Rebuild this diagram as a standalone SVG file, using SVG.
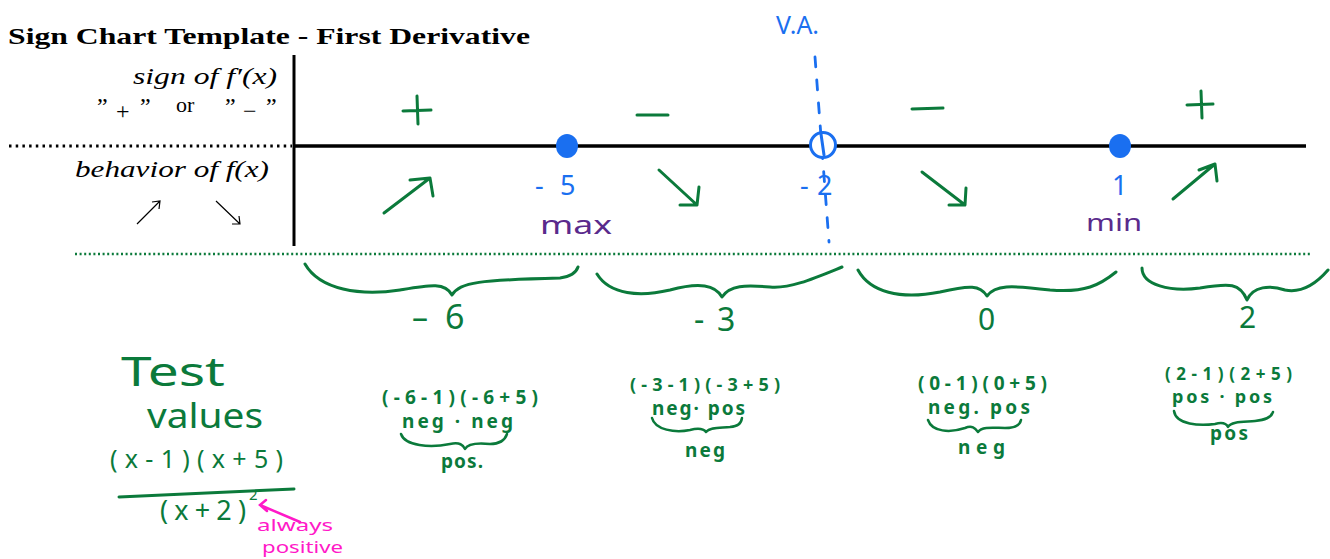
<svg xmlns="http://www.w3.org/2000/svg" width="1330" height="559" viewBox="0 0 1330 559">
<style>
.hw{font-family:"Noto Sans","Open Sans",sans-serif;}
.g{fill:#0b7a3b;}
.b{fill:#1a6ff0;}
.p{fill:#5a2a8c;}
.m{fill:#ff19c8;}
.gs{stroke:#0b7a3b;fill:none;stroke-width:3;stroke-linecap:round;stroke-linejoin:round;}
.gs2{stroke:#0b7a3b;fill:none;stroke-width:2.5;stroke-linecap:round;stroke-linejoin:round;}
.tex{font-family:"Liberation Serif","DejaVu Serif",serif;fill:#000;}
</style>
<rect width="1330" height="559" fill="#fff"/>

<g id="title">
<text class="tex" x="8" y="44" font-size="24" font-weight="bold" textLength="522" lengthAdjust="spacingAndGlyphs">Sign Chart Template - First Derivative</text>
</g>

<g id="row-labels">
<text class="tex" x="133" y="84" font-size="23" font-style="italic" textLength="144" lengthAdjust="spacingAndGlyphs">sign of f′(x)</text>
<text class="tex" x="97" y="114" font-size="24">”</text>
<text class="tex" x="116" y="119" font-size="24">+</text>
<text class="tex" x="140" y="114" font-size="24">”</text>
<text class="tex" x="176" y="112" font-size="22">or</text>
<text class="tex" x="225" y="114" font-size="24">”</text>
<text class="tex" x="243" y="119" font-size="24">−</text>
<text class="tex" x="266" y="114" font-size="24">”</text>
<text class="tex" x="75" y="177" font-size="23" font-style="italic" textLength="194" lengthAdjust="spacingAndGlyphs">behavior of  f(x)</text>
<g stroke="#000" stroke-width="1.2" fill="none">
<path d="M137 224 L160 201 M152 202 L160 201 L159 209"/>
<path d="M216 201 L240 224 M239 216 L240 224 L232 224"/>
</g>
</g>

<g id="axes">
<line x1="294" y1="55" x2="294" y2="246" stroke="#000" stroke-width="3"/>
<line x1="294" y1="146" x2="1306" y2="146" stroke="#000" stroke-width="3.5"/>
<line x1="9" y1="146" x2="292" y2="146" stroke="#000" stroke-width="3" stroke-dasharray="2.5 4.2"/>
<line x1="75" y1="254" x2="1310" y2="254" stroke="#0b7a3b" stroke-width="2.5" stroke-dasharray="2 2.6"/>
</g>

<g id="va">
<path d="M815 57 L829 242" stroke="#1a6ff0" stroke-width="2.8" stroke-dasharray="10 13" fill="none" stroke-linecap="round"/>
<text class="hw b" x="776" y="34" font-size="25" textLength="43" lengthAdjust="spacingAndGlyphs">V.A.</text>
</g>

<g id="critical-points">
<ellipse cx="567" cy="146" rx="11" ry="12" fill="#1a6ff0"/>
<ellipse cx="1120" cy="146" rx="11" ry="12" fill="#1a6ff0"/>
<circle cx="823" cy="145" r="12.5" fill="#fff" stroke="#1a6ff0" stroke-width="3"/>
<path d="M821 134 L824 155" stroke="#1a6ff0" stroke-width="3" stroke-linecap="round"/>
<text class="hw b" x="535" y="195" font-size="27">-<tspan x="560">5</tspan></text>
<text class="hw b" x="800" y="195" font-size="27">-<tspan x="817">2</tspan></text>
<text class="hw b" x="1112" y="195" font-size="27">1</text>
<text class="hw p" x="540" y="234" font-size="26" textLength="72" lengthAdjust="spacingAndGlyphs">max</text>
<text class="hw p" x="1086" y="231" font-size="24" textLength="56" lengthAdjust="spacingAndGlyphs">min</text>
</g>

<g id="signs">
<path class="gs" d="M403 111 L431 110 M417 96 L418 124"/>
<path class="gs" d="M637 115 L668 115"/>
<path class="gs" d="M912 109 L943 108"/>
<path class="gs" d="M1187 105 L1213 104 M1201 91 L1202 118"/>
</g>

<g id="behavior-arrows">
<path class="gs" d="M384 213 L430 178 M410 180 L430 178 L433 196"/>
<path class="gs" d="M659 170 L697 205 M680 205 L697 205 L699 187"/>
<path class="gs" d="M922 172 L965 205 M949 205 L965 205 L966 188"/>
<path class="gs" d="M1173 199 L1215 164 M1199 170 L1215 164 L1217 181"/>
</g>

<g id="braces">
<path class="gs" d="M305 264 C320 290 360 296 400 290 C430 285 445 282 452 295 C460 282 480 280 560 278 Q575 276 578 267"/>
<path class="gs" d="M597 274 C610 295 640 297 670 290 C700 282 715 285 722 297 C730 285 745 285 770 287 C790 289 815 278 842 267"/>
<path class="gs" d="M858 270 C870 292 900 300 940 292 C970 285 980 285 987 296 C995 285 1010 285 1050 290 C1085 293 1100 285 1116 272"/>
<path class="gs" d="M1142 268 C1142 285 1170 292 1200 288 C1230 283 1240 283 1247 300 C1253 286 1270 285 1285 290 C1300 293 1315 285 1328 270"/>
</g>

<g id="test-values">
<text class="hw g" x="412" y="329" font-size="32">–<tspan x="445" font-size="34">6</tspan></text>
<text class="hw g" x="694" y="331" font-size="32">-<tspan x="717">3</tspan></text>
<text class="hw g" x="978" y="330" font-size="30">0</text>
<text class="hw g" x="1239" y="328" font-size="30">2</text>
</g>

<g id="formula">
<text class="hw g" x="121" y="386" font-size="40" textLength="104" lengthAdjust="spacingAndGlyphs">Test</text>
<text class="hw g" x="147" y="428" font-size="35" textLength="116" lengthAdjust="spacingAndGlyphs">values</text>
<text class="hw g" x="110" y="468" font-size="25" textLength="173" lengthAdjust="spacing">(x-1)(x+5)</text>
<path class="gs" d="M119 497 L294 489"/>
<text class="hw g" x="160" y="520" font-size="27" textLength="86" lengthAdjust="spacing">(x+2)</text>
<text class="hw g" x="249" y="500" font-size="15">2</text>
<path d="M300 522 L260 505 M266 500 L260 505 L267 511" stroke="#ff19c8" stroke-width="2.5" fill="none" stroke-linecap="round"/>
<text class="hw m" x="257" y="531" font-size="17" textLength="76" lengthAdjust="spacingAndGlyphs">always</text>
<text class="hw m" x="262" y="553" font-size="17" textLength="81" lengthAdjust="spacingAndGlyphs">positive</text>
</g>

<g id="calc-neg6">
<text class="hw g" x="382" y="404" font-size="19" font-weight="bold" textLength="156" lengthAdjust="spacing">(-6-1)(-6+5)</text>
<text class="hw g" x="402" y="428" font-size="19" font-weight="bold" textLength="111" lengthAdjust="spacing">neg · neg</text>
<path class="gs2" d="M401 434 C405 446 430 448 450 444 C460 442 463 445 465 449 C468 443 480 443 490 444 C500 444 505 440 507 434"/>
<text class="hw g" x="441" y="468" font-size="19" font-weight="bold" textLength="42" lengthAdjust="spacing">pos.</text>
</g>

<g id="calc-neg3">
<text class="hw g" x="630" y="391" font-size="18" font-weight="bold" textLength="150" lengthAdjust="spacing">(-3-1)(-3+5)</text>
<text class="hw g" x="652" y="415" font-size="19" font-weight="bold" textLength="93" lengthAdjust="spacing">neg· pos</text>
<path class="gs2" d="M652 418 C655 430 675 433 690 430 C698 428 703 428 706 432 C710 427 720 428 730 427 C738 426 741 424 742 418"/>
<text class="hw g" x="685" y="457" font-size="19" font-weight="bold" textLength="40" lengthAdjust="spacing">neg</text>
</g>

<g id="calc-0">
<text class="hw g" x="918" y="390" font-size="19" font-weight="bold" textLength="129" lengthAdjust="spacing">(0-1)(0+5)</text>
<text class="hw g" x="928" y="414" font-size="19" font-weight="bold" textLength="102" lengthAdjust="spacing">neg. pos</text>
<path class="gs2" d="M928 420 C932 432 950 433 965 428 C972 425 975 428 978 432 C982 426 995 428 1005 428 C1015 428 1020 425 1021 420"/>
<text class="hw g" x="958" y="454" font-size="19" font-weight="bold" textLength="47" lengthAdjust="spacing">neg</text>
</g>

<g id="calc-2">
<text class="hw g" x="1165" y="380" font-size="17" font-weight="bold" textLength="127" lengthAdjust="spacing">(2-1)(2+5)</text>
<text class="hw g" x="1172" y="403" font-size="18" font-weight="bold" textLength="100" lengthAdjust="spacing">pos · pos</text>
<path class="gs2" d="M1174 411 C1176 425 1200 426 1215 424 C1222 422 1226 423 1228 427 C1231 421 1245 422 1255 421 C1265 420 1271 418 1273 412"/>
<text class="hw g" x="1210" y="440" font-size="19" font-weight="bold" textLength="38" lengthAdjust="spacing">pos</text>
</g>
</svg>
